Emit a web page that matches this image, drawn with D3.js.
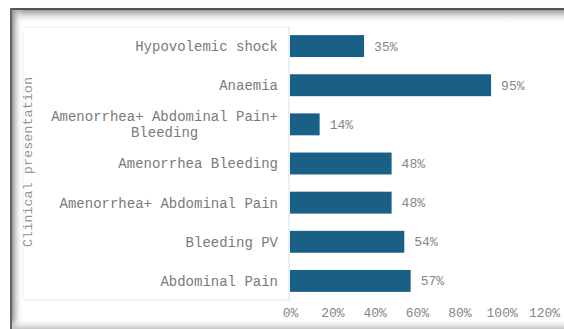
<!DOCTYPE html>
<html>
<head>
<meta charset="utf-8">
<script src="https://cdn.jsdelivr.net/npm/d3@7"></script>
<style>
  html, body { margin: 0; padding: 0; background: #fff; }
  svg { display: block; }
  text { font-family: "Liberation Mono", "Courier New", monospace; }
</style>
</head>
<body>
<svg id="chart" width="564" height="329"></svg>
<script>
// Clinical presentation (share of patients)
const categories = [
  ["Hypovolemic shock"],
  ["Anaemia"],
  ["Amenorrhea+ Abdominal Pain+", "Bleeding"],
  ["Amenorrhea Bleeding"],
  ["Amenorrhea+ Abdominal Pain"],
  ["Bleeding PV"],
  ["Abdominal Pain"]
];
const values = [0.35, 0.95, 0.14, 0.48, 0.48, 0.54, 0.57];
const tickValues = [0, 0.2, 0.4, 0.6, 0.8, 1.0, 1.2];
const axisTitle = "Clinical presentation";

const svg = d3.select("#chart");
const W = 564, H = 329;

// panel frame with inner shading
const defs = svg.append("defs");
const gTop = defs.append("linearGradient").attr("id", "shTop").attr("x1", 0).attr("y1", 0).attr("x2", 0).attr("y2", 1);
gTop.append("stop").attr("offset", "0%").attr("stop-color", "#9a9a9a");
gTop.append("stop").attr("offset", "100%").attr("stop-color", "#ffffff").attr("stop-opacity", 0);
const gLeft = defs.append("linearGradient").attr("id", "shLeft").attr("x1", 0).attr("y1", 0).attr("x2", 1).attr("y2", 0);
gLeft.append("stop").attr("offset", "0%").attr("stop-color", "#929292");
gLeft.append("stop").attr("offset", "100%").attr("stop-color", "#ffffff").attr("stop-opacity", 0);
const gBot = defs.append("linearGradient").attr("id", "shBot").attr("x1", 0).attr("y1", 0).attr("x2", 0).attr("y2", 1);
gBot.append("stop").attr("offset", "0%").attr("stop-color", "#ffffff").attr("stop-opacity", 0);
gBot.append("stop").attr("offset", "100%").attr("stop-color", "#c4c4c4");

svg.append("rect").attr("x", 0).attr("y", 0).attr("width", W).attr("height", H).attr("fill", "#fff");
svg.append("rect").attr("x", 12).attr("y", 10).attr("width", W - 12).attr("height", 14).attr("fill", "url(#shTop)");
svg.append("rect").attr("x", 12).attr("y", 10).attr("width", 11).attr("height", H - 10).attr("fill", "url(#shLeft)");
svg.append("rect").attr("x", 12).attr("y", 318).attr("width", W - 12).attr("height", 11).attr("fill", "url(#shBot)");
svg.append("line").attr("x1", 10).attr("x2", W).attr("y1", 9).attr("y2", 9).attr("stroke", "#555").attr("stroke-width", 2);
svg.append("line").attr("x1", 11).attr("x2", 11).attr("y1", 8).attr("y2", H).attr("stroke", "#666").attr("stroke-width", 2);

// scales
const x = d3.scaleLinear().domain([0, 1.2]).range([290, 544]);
const y = d3.scaleBand().domain(d3.range(categories.length)).range([26.5, 300.5]).paddingInner(0.44).paddingOuter(0.22);

// category label box
svg.append("line").attr("x1", 23).attr("x2", 290).attr("y1", 27).attr("y2", 27).attr("stroke", "#ececec");
svg.append("line").attr("x1", 23).attr("x2", 290).attr("y1", 300).attr("y2", 300).attr("stroke", "#e6e6e6");
svg.append("line").attr("x1", 23).attr("x2", 23).attr("y1", 27).attr("y2", 300).attr("stroke", "#f2f2f2");

// value axis line
svg.append("line").attr("x1", x(0) - 1).attr("x2", x(0) - 1).attr("y1", 27).attr("y2", 300)
  .attr("stroke", "#d4e2ea");

// bars
svg.append("g").selectAll("rect").data(values).join("rect")
  .attr("x", x(0))
  .attr("y", (d, i) => y(i))
  .attr("width", d => x(d) - x(0))
  .attr("height", y.bandwidth())
  .attr("fill", "#1a5f86");

// value labels
svg.append("g").selectAll("text").data(values).join("text")
  .attr("x", d => x(d) + 10)
  .attr("y", (d, i) => y(i) + y.bandwidth() / 2)
  .attr("dy", "0.35em")
  .attr("font-size", 13)
  .attr("fill", "#858585")
  .text(d => d3.format(".0%")(d));

// category labels (wrapped labels centred under their widest line)
const labelRight = 278;
const lineH = 16;
const catG = svg.append("g");
categories.forEach((lines, i) => {
  const cy = y(i) + y.bandwidth() / 2;
  const t = catG.append("text")
    .attr("font-size", 14)
    .attr("fill", "#7a7a7a");
  lines.forEach((ln, j) => {
    t.append("tspan").attr("x", labelRight).attr("y", cy + (j - (lines.length - 1) / 2) * lineH)
      .attr("dy", "0.35em").text(ln);
  });
  if (lines.length > 1) {
    const maxW = d3.max(t.selectAll("tspan").nodes(), n => n.getComputedTextLength());
    t.attr("text-anchor", "middle").selectAll("tspan").attr("x", labelRight - maxW / 2);
  } else {
    t.attr("text-anchor", "end");
  }
});

// x axis tick labels
const xAxis = d3.axisBottom(x).tickValues(tickValues).tickFormat(d3.format(".0%")).tickSize(0).tickPadding(0);
const ax = svg.append("g").attr("transform", "translate(0,308)").call(xAxis);
ax.select(".domain").remove();
ax.selectAll("text").attr("font-size", 13).attr("fill", "#858585")
  .attr("font-family", "Liberation Mono, Courier New, monospace");

// axis title
svg.append("text")
  .attr("transform", "translate(27,162) rotate(-90)")
  .attr("text-anchor", "middle")
  .attr("dy", "0.35em")
  .attr("font-size", 13.5)
  .attr("fill", "#959595")
  .text(axisTitle);
</script>
</body>
</html>
